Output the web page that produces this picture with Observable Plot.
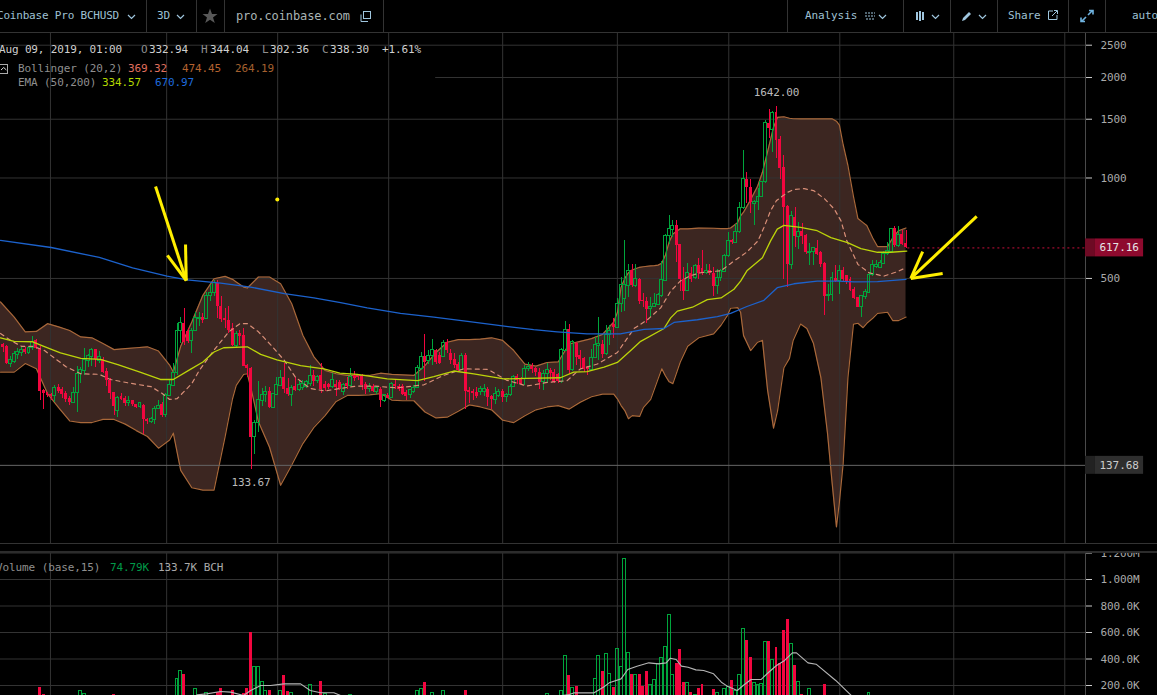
<!DOCTYPE html>
<html>
<head>
<meta charset="utf-8">
<script src="https://cdn.jsdelivr.net/npm/d3@7"></script>
<script src="https://cdn.jsdelivr.net/npm/@observablehq/plot@0.6"></script>
<style>
html,body{margin:0;padding:0;background:#000;width:1157px;height:695px;overflow:hidden}
#page{position:relative;width:1157px;height:695px;overflow:hidden;font:11px "DejaVu Sans Mono",monospace;letter-spacing:-.1px}
#page svg{display:block;position:absolute;left:0}
.t{position:absolute;white-space:pre;line-height:12px}
.l{position:absolute;background:#333}
</style>
</head>
<body>
<div id="page"></div>
<script>
// ---- candles (3D, oldest to newest) ----
const opens = [
317,312,278,281,295,298,306,299,309,326,
309,230,227,224,222,235,232,226,218,212,
227,258,264,283,291,306,283,286,263,247,
227,201,221,218,212,215,209,206,208,189,
186,188,203,209,195,222,238,260,348,366,
346,324,348,377,381,379,442,451,482,413,
379,374,353,314,342,338,275,268,167,184,
215,223,229,205,224,238,253,234,224,237,
231,234,237,241,256,247,256,240,240,237,
240,244,229,243,238,256,254,254,240,233,
237,229,233,215,223,219,241,238,237,227,
223,229,235,268,291,282,292,305,293,291,
322,297,285,276,266,293,231,229,228,228,
229,233,221,216,222,229,220,223,236,254,
250,250,267,272,268,262,244,259,265,261,
257,244,304,351,265,320,293,287,271,266,
289,314,316,297,338,363,356,419,434,475,
527,475,497,429,427,406,410,417,442,491,
672,698,719,631,497,458,519,501,547,534,
519,529,519,474,501,524,582,648,640,687,
813,993,935,836,846,880,971,1457,1397,1568,
1303,1075,821,549,762,666,691,674,596,602,
616,596,553,442,447,501,491,527,509,497,
463,437,410,439,452,512,541,537,554,591,
602,708,626,679,636];
const highs = [
319,315,291,303,309,312,310,313,334,328,
313,232,228,226,239,241,236,229,221,235,
273,271,308,296,308,306,301,290,268,250,
228,222,226,222,222,216,210,212,209,190,
192,206,216,213,226,248,278,367,383,406,
353,353,396,396,392,453,476,493,493,440,
406,413,366,346,349,353,277,270,188,246,
234,237,235,226,253,265,278,250,239,252,
248,247,248,275,265,256,278,245,242,259,
248,248,243,253,269,264,258,258,244,242,
240,237,235,224,226,244,247,240,241,230,
233,239,274,300,339,304,327,307,300,326,
327,307,297,280,297,297,235,232,235,238,
241,235,223,235,233,232,226,241,256,258,
252,274,280,278,271,268,265,278,268,266,
260,309,372,364,326,322,305,290,272,307,
332,381,326,361,361,378,434,505,651,551,
549,551,501,452,437,439,452,452,562,679,
771,745,745,633,539,553,539,551,574,607,
551,551,539,533,533,591,687,655,727,846,
1209,1041,993,856,928,977,1490,1603,1580,1642,
1328,1168,827,792,813,737,732,679,638,619,
650,604,557,480,521,547,547,539,512,503,
469,439,445,463,521,564,564,564,604,640,
708,714,714,695,695];
const lows = [
299,277,271,278,286,291,295,296,305,306,
216,202,220,216,213,226,218,213,208,211,
198,242,256,271,273,271,278,259,238,217,
194,192,215,206,206,206,204,204,170,183,
184,183,202,192,192,221,238,256,319,315,
319,298,346,358,367,377,425,440,379,370,
353,342,312,310,314,272,252,133.67,148,173,
206,213,204,204,223,237,226,222,207,229,
229,231,234,238,237,243,226,229,232,234,
221,230,223,233,237,245,247,231,224,228,
228,225,205,213,218,218,232,229,223,215,
219,226,234,265,246,277,274,277,277,289,
297,277,268,262,265,203,211,216,219,223,
221,207,203,210,220,213,213,221,235,241,
239,239,264,260,254,233,231,243,247,243,
243,243,301,257,264,274,268,262,256,265,
287,284,287,294,314,331,353,395,399,437,
469,469,417,408,367,381,408,415,439,489,
633,663,557,458,429,456,486,497,497,509,
514,509,442,447,491,520,577,633,636,682,
807,836,780,719,798,876,960,1312,1195,1143,
987,497,469,533,619,612,633,591,545,545,
585,541,386,427,425,486,447,491,480,458,
432,408,381,432,450,508,534,534,551,585,
598,619,619,626,615];
const closes = [
310,278,284,296,302,305,300,309,322,309,
229,226,223,221,234,229,225,217,213,227,
259,265,284,292,306,285,291,262,247,226,
207,219,217,211,215,209,205,211,189,186,
189,203,208,194,223,240,260,349,368,322,
324,348,381,381,374,442,453,484,411,376,
373,350,315,340,336,273,268,167,184,216,
223,229,205,225,239,252,233,225,235,231,
239,241,245,255,245,253,232,234,235,248,
235,232,240,237,254,250,252,239,233,237,
229,234,215,223,219,241,237,233,225,221,
231,235,269,291,280,293,305,280,278,320,
304,284,274,265,293,229,228,226,221,233,
233,220,217,225,229,220,224,237,254,247,
241,268,272,266,261,244,259,265,259,244,
245,305,351,265,322,290,285,266,266,289,
315,317,296,339,347,356,419,478,478,527,
475,497,427,425,403,412,420,445,493,672,
703,719,626,497,458,519,497,544,519,519,
527,519,473,503,527,582,648,640,689,813,
993,938,842,846,876,971,1457,1408,1568,1297,
1068,817,551,769,666,687,669,596,602,616,
591,549,442,447,503,491,527,497,491,461,
434,410,442,456,512,547,547,558,593,604,
703,626,674,633,617.16];

// ---- Bollinger bands ----
const bollIdx = [-0.7,3,6,9,12,15,18,21,24,27,30,33,36,39,42,45,46,48,51,54,57,60,62,63,65,66,67,69,72,75,78,81,84,87,90,
93,96,99,102,105,108,111,114,117,120,123,126,129,132,135,138,141,144,147,150,153,156,159,162,165,
166,167,168,169,170,172,173,175,176,177,178,179,180,181,183,185,188,192,194,195.7,196.6,198.5,199.3,200.1,202,203.9,205.2,206.6,208.2,209.3,211,212.5,213.5,215.5,217.2,219,221,222.8,224,225.2,226,227,228.3,229.8,231,232.4,233.4,235,236.3,239,240.4,242,244];
const bollUpper = [425,383,346,347,366,358,349,334,332,319,306,308,310,312,303,275,262,313,370,445,499,507,497,488,471,468,480,505,505,482,420,338,291,265,259,
256,256,256,260,258,257,256,274,300,322,328,328,329,332,326,304,277,273,280,281,318,324,330,340,370,
395,470,500,520,530,540,542,545,546,548,555,588,643,680,704,704,708,707,705,705,708,735,770,790,860,945,1040,1200,1420,1520,1526,1510,1505,1504,1504,1504,1504,1504,1504,1480,1441,1260,1090,880,756,735,721,661,623,623,661,695,708];
const bollLower = [262,262,278,268,226,205,187,185,185,189,189,183,175,168,155,164,172,133,118,116,116,168,218,239,258,259,234,186,156,120,138,160,179,194,214,
223,223,224,226,216,215,215,199,191,192,200,209,206,202,188,185,194,202,206,208,203,213,221,225,225,
218,208,201,190,194,193,205,217,233,250,268,255,245,242,281,313,332,341,362,387,407,409,396,337,304,322,326,231,178,201,270,288,326,365,354,319,252,171,123,90,107,139,252,365,367,356,367,380,393,396,374,374,383];
const midIdx = [-0.7,2,5,8,11,14,17,21,26,29,34,40,43,45,47,51,53,57,61,64,66,69,72,76,79,83,87,91,
95.7,100,106.5,113.7,119,124.5,131,136,141.6,147,152.4,156,160.6,166,168.6,
170.5,174,177.7,180.4,183,185.8,188.5,191.2,194,197.5,201,204,205.6,207.4,209,212,213.7,216.5,219,222,224.6,226.4,228,231,234,238,241.7,244];
const midValues = [342,326,313,313,305,288,272,259,258,249,243,237,226,217,218,242,265,305,346,366,366,346,319,284,253,234,230,234,
238,238,235,240,256,268,267,248,238,244,247,268,277,300,330,
354,375,408,458,491,510,520,524,527,564,600,648,711,798,856,906,924,929,917,866,807,745,648,551,520,508,524,539];

// ---- EMA 50 / EMA 200 ----
const ema50Idx = [-0.7,3,8,11,15.5,21,26.3,31,37,42.5,46,50.6,54,57,59.6,66,69.6,74,80.4,86.7,91,
95.7,103.8,112,116.4,121.8,127.2,135.3,141.6,150.6,154.2,157.8,162.4,166,169.6,172.3,
178.6,180.4,182.2,186.3,190.3,194,197.5,199.3,201,205.2,207.4,209.2,211,215.5,220,223.7,228.2,231.8,236.3,239.9,244.2];
const ema50Values = [332,324,323,313,299,288,286,276,262,249,249,267,281,301,310,312,296,285,274,268,260,
258,250,247,254,264,259,250,251,252,262,263,271,280,304,324,
354,381,399,410,432,437,464,491,527,577,648,703,721,711,695,663,640,614,599,599,604];
const ema200Idx = [-0.7,13,26,35,44.3,49.7,58.8,66.9,76,84,91.2,98.4,107.4,116.4,125.5,134.4,143.4,149.7,157.8,163.2,166.8,173.2,178.6,181.3,187.6,193,196.6,201,205.6,209.2,213.7,220,225.5,230,236.3,244];
const ema200Values = [650,619,578,538,508,495,484,471,450,437,423,408,393,383,372,361,351,346,341,341,341,352,354,369,376,384,393,412,430,469,482,491,491,488,489,497];

// ---- volume ----
const volIdx = [10,11,21,22,30,47,48,49,52,55,58,59,62,65,66,67,68,69,70,71,72,75,76,77,78,83,86,87,94,112,113,114,116,119,125,
147,151,152,153,154,155,160,161,162,163,164,165,166,167,168,169,170,171,172,173,174,175,176,177,178,179,180,181,182,183,184,185,186,187,188,189,192,193,195,196,197,198,199,200,201,202,203,204,205,206,207,208,209,210,211,212,213,214,215,216,218,222,234];
const volValues = [182,132,155,137,130,250,311,283,175,144,144,175,162,137,175,598,341,341,230,155,162,155,275,155,144,205,230,137,130,155,170,222,144,160,160,
137,160,426,275,182,195,250,426,306,441,288,182,472,341,1151,446,283,283,283,195,306,205,243,363,409,492,733,280,363,472,222,222,144,132,180,205,170,144,170,187,238,157,280,628,540,409,220,205,215,532,532,396,489,363,615,698,514,351,230,132,175,205,144].map(v=>v*1000);
const volDown = new Set([10,11,30,49,58,59,62,65,66,67,72,76,77,86,114,125,153,155,162,165,170,172,173,174,182,183,184,186,188,189,192,197,201,202,207,209,210,211,212,214,216,222]);
const volMaIdx = [52.4,55,58.8,61.5,65,66.9,69.6,72.3,75.9,80.4,83,85.8,89.4,91.2,100,140,152.6,154.2,159.6,162.2,163.8,167,168.8,171.3,174.5,177.1,179.2,180.3,181.9,183.3,185.1,187.2,189.3,192,194.1,195.7,198.4,200,202.1,204.8,206.9,209,211.2,213.3,214.4,217.5,219.7,225,229.2];
const volMaValues = [129,137,155,150,125,162,200,200,212,212,162,145,145,125,80,90,129,144,144,187,220,250,321,346,371,363,371,406,396,346,338,318,313,288,225,195,162,200,245,245,300,351,389,446,446,371,361,238,125].map(v=>v*1000);

// ---- axes and grid ----
const priceTicks = [500,1000,1500,2000,2500];
const priceGrid = [500,1000,1500,2500];
const legendGapGrid = 2000, legendGapEndIdx = 116.9;
const volTicks = [200000,400000,600000,800000,1000000,1200000];
const volTickLabels = ["200.0K","400.0K","600.0K","800.0K","1.000M","1.200M"];
const gridIdx = [12.8,44.2,74.2,104.2,135,166,196.1,226.1,256.9,286.9];
const xDomain = [-0.7,292.5];
const priceDomain = [80.3,2710];

// ---- price labels and annotations ----
const lastPrice = 617.16, crossPrice = 137.68;
const peak = {i:209, price:1642}, trough = {i:67, price:133.67};
const axisIdx = 292.5, tagSplitIdx = 295.2, tagEndIdx = 308.2, tagTextIdx = 296.3;
const arrowX1 = [41.2,44.4,49.3,263.1,248.5,253.9];
const arrowP1 = [943,586,632,767,602,517];
const arrowX2 = [49.5,49.5,49.5,245.3,245.3,245.3];
const arrowP2 = [493,493,493,500,500,500];
const dotMark = {i:74.1, price:862};

const GREEN="#00a53c", RED="#f2063f", GRID="#333", FONT="'DejaVu Sans Mono',monospace";
const candles = opens.map((o,i)=>({i,open:o,high:highs[i],low:lows[i],close:closes[i],top:Math.max(o,closes[i]),bot:Math.min(o,closes[i]),up:closes[i]>=o}));
const ups = candles.filter(d=>d.up), downs = candles.filter(d=>!d.up);
const boll = bollIdx.map((i,k)=>({i,up:bollUpper[k],lo:bollLower[k]}));
const mid = midIdx.map((i,k)=>({i,v:midValues[k]}));
const ema50 = ema50Idx.map((i,k)=>({i,v:ema50Values[k]}));
const ema200 = ema200Idx.map((i,k)=>({i,v:ema200Values[k]}));
const vols = volIdx.map((i,k)=>({i,v:volValues[k],down:volDown.has(i)}));
const volMa = volMaIdx.map((i,k)=>({i,v:volMaValues[k]}));
const arrows = arrowX1.map((x,k)=>({x1:x,y1:arrowP1[k],x2:arrowX2[k],y2:arrowP2[k]}));
const hw = 0.4, crisp = {shapeRendering:"crispEdges"};

const style = {background:"#000",fontFamily:FONT,fontSize:"11px",overflow:"hidden"};

const price = Plot.plot({
  width:1157,height:543,marginTop:33,marginBottom:0,marginLeft:0,marginRight:72,style,
  x:{domain:xDomain,axis:null},
  y:{type:"log",domain:priceDomain,axis:null},
  marks:[
    Plot.areaY(boll,{x:"i",y1:"lo",y2:"up",fill:"#3c2621"}),
    Plot.ruleX(gridIdx,{stroke:GRID}),
    Plot.ruleY(priceGrid,{stroke:GRID}),
    Plot.ruleY([legendGapGrid],{x1:legendGapEndIdx,x2:axisIdx,stroke:GRID}),
    Plot.ruleX([axisIdx],{stroke:"#4a4a4a"}),
    Plot.line(boll,{x:"i",y:"up",stroke:"#a9683a",strokeWidth:1.2}),
    Plot.line(boll,{x:"i",y:"lo",stroke:"#a9683a",strokeWidth:1.2}),
    Plot.ruleY([crossPrice],{x1:xDomain[0],x2:tagSplitIdx,stroke:"#666"}),
    Plot.ruleY([lastPrice],{x1:244.5,x2:tagSplitIdx,stroke:"#c8103c",strokeDasharray:"2,3"}),
    // wicks
    Plot.ruleX(ups,{x:"i",y1:"high",y2:"top",stroke:GREEN,...crisp}),
    Plot.ruleX(ups,{x:"i",y1:"bot",y2:"low",stroke:GREEN,...crisp}),
    Plot.ruleX(downs,{x:"i",y1:"high",y2:"low",stroke:RED,...crisp}),
    // bodies
    Plot.rect(ups,{x1:d=>d.i-hw,x2:d=>d.i+hw,y1:"open",y2:"close",fill:"none",stroke:GREEN,...crisp}),
    Plot.rect(downs,{x1:d=>d.i-hw,x2:d=>d.i+hw,y1:"open",y2:"close",fill:RED,...crisp}),
    Plot.line(mid,{x:"i",y:"v",stroke:"#d98f78",strokeWidth:1.2,strokeDasharray:"4,4"}),
    Plot.line(ema50,{x:"i",y:"v",stroke:"#bcd40a",strokeWidth:1.3}),
    Plot.line(ema200,{x:"i",y:"v",stroke:"#1c62cc",strokeWidth:1.3}),
    Plot.link(arrows,{x1:"x1",y1:"y1",x2:"x2",y2:"y2",stroke:"#ffee00",strokeWidth:3,strokeLinecap:"butt"}),
    Plot.dot([dotMark],{x:"i",y:"price",r:2,fill:"#ffee00"}),
    Plot.text([peak],{x:"i",y:"price",text:d=>d.price.toFixed(2),dy:-14,fill:"#bbb",fontSize:11}),
    Plot.text([trough],{x:"i",y:"price",text:d=>d.price.toFixed(2),dy:13,fill:"#bbb",fontSize:11}),
    // price tags on the axis
    Plot.rect([lastPrice],{x1:axisIdx,x2:tagSplitIdx,y1:d=>d*0.94,y2:d=>d*1.064,fill:"#6e0a24"}),
    Plot.rect([lastPrice],{x1:tagSplitIdx,x2:tagEndIdx,y1:d=>d*0.94,y2:d=>d*1.064,fill:"#8e0a2e"}),
    Plot.text([lastPrice],{x:tagTextIdx,y:d=>d,text:d=>d.toFixed(2),textAnchor:"start",fill:"#e6e6e6",fontSize:11}),
    Plot.rect([crossPrice],{x1:axisIdx,x2:tagSplitIdx,y1:d=>d*0.94,y2:d=>d*1.064,fill:"#222"}),
    Plot.rect([crossPrice],{x1:tagSplitIdx,x2:tagEndIdx,y1:d=>d*0.94,y2:d=>d*1.064,fill:"#2e2e2e"}),
    Plot.text([crossPrice],{x:tagTextIdx,y:d=>d,text:d=>d.toFixed(2),textAnchor:"start",fill:"#ccc",fontSize:11}),
    Plot.axisY({anchor:"right",ticks:priceTicks,tickSize:6,tickPadding:9,tickFormat:d=>String(d),stroke:"#ccc",fill:"#aaa",label:null,fontSize:11,textAnchor:"start"})
  ]
});

const volume = Plot.plot({
  width:1157,height:159,marginTop:0,marginBottom:0,marginLeft:0,marginRight:72,style,
  x:{domain:xDomain,axis:null},
  y:{domain:[0,1200000],range:[158.5,-0.5],axis:null},
  marks:[
    Plot.ruleX(gridIdx,{stroke:GRID}),
    Plot.ruleY(volTicks,{stroke:GRID}),
    Plot.ruleX([axisIdx],{stroke:"#4a4a4a"}),
    Plot.rect(vols.filter(d=>!d.down),{x1:d=>d.i-hw,x2:d=>d.i+hw,y1:0,y2:"v",fill:"none",stroke:GREEN,...crisp}),
    Plot.rect(vols.filter(d=>d.down),{x1:d=>d.i-hw,x2:d=>d.i+hw,y1:0,y2:"v",fill:RED,...crisp}),
    Plot.line(volMa,{x:"i",y:"v",stroke:"#b5b5b5",strokeWidth:1.1}),
    Plot.axisY({anchor:"right",ticks:volTicks,tickSize:6,tickPadding:9,tickFormat:d=>volTickLabels[volTicks.indexOf(d)],stroke:"#ccc",fill:"#aaa",label:null,fontSize:11,textAnchor:"start"})
  ]
});

const page = document.getElementById("page");
price.style.top="0px"; volume.style.top="553px";
page.append(price, volume);

// ---- header and legends (HTML above the charts) ----
const addText=(x,y,s,c,extra={})=>{const e=document.createElement("div");e.className="t";e.textContent=s;e.style.left=x+"px";e.style.top=(y-6)+"px";e.style.color=c;Object.assign(e.style,extra);page.append(e);};
const addLine=(x,y,w,h,c)=>{const e=document.createElement("div");e.className="l";Object.assign(e.style,{left:x+"px",top:y+"px",width:w+"px",height:h+"px"});if(c)e.style.background=c;page.append(e);};
const addIcon=(x,y,w,h,inner)=>{const e=document.createElementNS("http://www.w3.org/2000/svg","svg");e.setAttribute("width",w);e.setAttribute("height",h);e.setAttribute("viewBox",`0 0 ${w} ${h}`);e.style.cssText=`left:${x}px;top:${y}px;position:absolute`;e.innerHTML=inner;page.append(e);};
const chevron=(x,y,c="#9fc6de")=>addIcon(x,y,9,6,`<polyline points="1,1 4.5,4.5 8,1" fill="none" stroke="${c}" stroke-width="1.2"/>`);

addLine(0,0,1157,32,"#000");
addLine(0,32,1157,1,"#333");
[146,196,224,383,787,903,950,997,1068,1105].forEach(x=>addLine(x,0,1,32,"#333"));
addLine(0,543,1157,1,"#333");
addLine(0,551,1157,2,"#2c2c2c");

const BLUE="#9fc0d4";
addText(-3,16,"Coinbase Pro BCHUSD",BLUE,{letterSpacing:"-.2px"}); chevron(127,14);
addText(157,16,"3D",BLUE); chevron(176,14);
addIcon(202,8,16,16,`<polygon points="8,0.5 10,6 15.5,6 11,9.5 12.8,15 8,11.7 3.2,15 5,9.5 0.5,6 6,6" fill="#585858"/>`);
addText(236,16,"pro.coinbase.com","#a9b4b4",{fontSize:"12px"});
addIcon(360,11,11,11,`<rect x="3.5" y=".5" width="7" height="7" fill="none" stroke="#9fc6de"/><path d="M1 3.5V10.5H8" fill="none" stroke="#9fc6de"/>`);
addText(805,16,"Analysis",BLUE);
addIcon(865,11,11,9,`<path d="M0 2h10M0 5h10M1 8h9" stroke="#9fc6de" stroke-dasharray="2,1" fill="none"/>`); chevron(878,14);
addIcon(915,11,10,10,`<path d="M2 1v8M5 0v10M8 1v8" stroke="#9fc6de" stroke-width="2"/>`); chevron(931,14);
addIcon(961,10,12,12,`<path d="M1 11l1-3 6-6 2 2-6 6z" fill="#9fc6de"/>`); chevron(978,14);
addText(1008,16,"Share",BLUE);
addIcon(1048,10,10,10,`<path d="M5 1H.5V9.5H9V5M4 6l5-5M6 .5h3.5V4" fill="none" stroke="#9fc6de"/>`);
addIcon(1080,9,14,14,`<path d="M8 6l4-4M9 1.5h4v4M6 8l-4 4M1 8.5v4h4" fill="none" stroke="#6fb3e0" stroke-width="1.6"/>`);
addText(1132,16,"auto",BLUE);

const VAL="#cfcfcf", LAB="#8f8f8f";
addText(-1,50,"Aug 09, 2019, 01:00",VAL,{letterSpacing:"-.15px"});
addText(141,50,"O",LAB); addText(149,50,"332.94",VAL);
addText(201,50,"H",LAB); addText(210,50,"344.04",VAL);
addText(262,50,"L",LAB); addText(270,50,"302.36",VAL);
addText(322,50,"C",LAB); addText(330,50,"338.30",VAL);
addText(382,50,"+1.61%",VAL);
addIcon(0,64,8,10,`<rect x="-1" y=".5" width="8.5" height="9" fill="none" stroke="#aaa"/><polyline points="1,6 3.7,3.5 6.4,6" fill="none" stroke="#ddd"/>`);
addText(18,69,"Bollinger (20,2)",LAB);
addText(128,69,"369.32","#e0705f"); addText(182,69,"474.45","#b5622f"); addText(235,69,"264.19","#a5602f");
addText(18,83,"EMA (50,200)",LAB);
addText(102,83,"334.57","#b4d800"); addText(155,83,"670.97","#1f6bdc");
addText(-4,568,"Volume (base,15)",LAB);
addText(110,568,"74.79K","#009a48"); addText(158,568,"133.7K BCH","#aaa");
</script>
</body>
</html>
